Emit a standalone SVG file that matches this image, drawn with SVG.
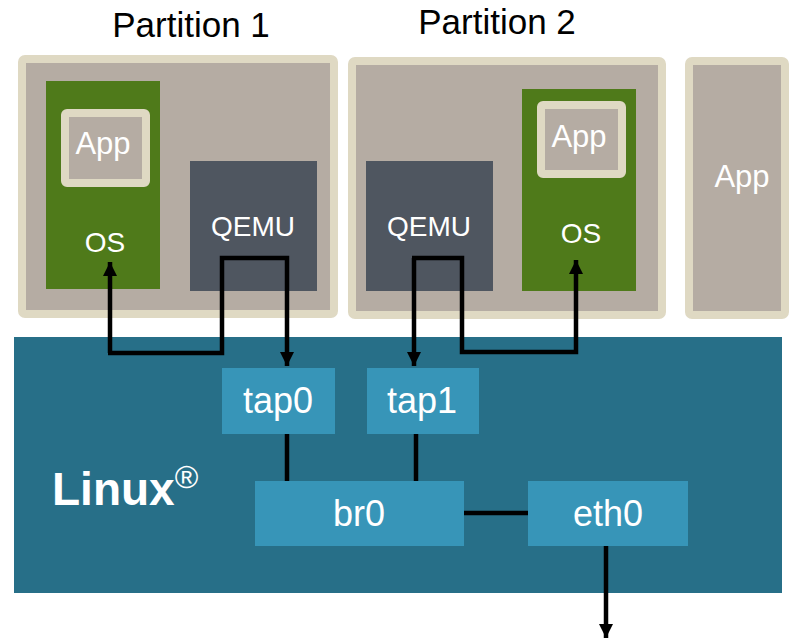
<svg xmlns="http://www.w3.org/2000/svg" width="789" height="641" viewBox="0 0 789 641">
<defs>
<style>
.part{fill:#b5aca3;stroke:#dfd9c3;stroke-width:8;stroke-linejoin:round}
.os{fill:#4f7a1a}
.qemu{fill:#4f5660}
.nic{fill:#3795b8}
.t{font-family:"Liberation Sans",Arial,sans-serif;fill:#fff;text-anchor:middle}
.title{font-family:"Liberation Sans",Arial,sans-serif;fill:#000;text-anchor:middle;font-size:35px}
.ln{fill:none;stroke:#000;stroke-width:4.5}
</style>
<marker id="ah" viewBox="0 0 10 10" refX="10" refY="5" markerWidth="3.2" markerHeight="3.2" orient="auto" markerUnits="strokeWidth">
<path d="M0,0 L10,5 L0,10 z" fill="#000"/>
</marker>
</defs>
<rect width="789" height="641" fill="#fff"/>
<g id="title1"><text class="title" x="191" y="37">Partition 1</text></g>
<g id="title2"><text class="title" x="497" y="34">Partition 2</text></g>
<g id="linux">
<rect x="14" y="337" width="768" height="256" fill="#276f88"/>
<text x="52" y="505" font-family="Liberation Sans,Arial,sans-serif" font-weight="bold" font-size="46" fill="#fff">Linux<tspan font-size="32" font-weight="normal" dy="-17">®</tspan></text>
</g>
<g id="partition1">
<rect class="part" x="22" y="59" width="312" height="255" rx="3"/>
</g>
<g id="os1">
<rect class="os" x="46" y="81" width="114" height="208"/>
<text class="t" x="105" y="252" font-size="28">OS</text>
</g>
<g id="app1">
<rect class="part" x="65" y="113" width="81" height="70" rx="2"/>
<text class="t" x="103" y="154" font-size="31">App</text>
</g>
<g id="qemu1">
<rect class="qemu" x="190" y="161" width="127" height="130"/>
<text class="t" x="253" y="236" font-size="28">QEMU</text>
</g>
<g id="partition2">
<rect class="part" x="352" y="61" width="310" height="254" rx="3"/>
</g>
<g id="qemu2">
<rect class="qemu" x="366" y="161" width="127" height="130"/>
<text class="t" x="429" y="236" font-size="28">QEMU</text>
</g>
<g id="os2">
<rect class="os" x="522" y="89" width="114" height="202"/>
<text class="t" x="581" y="243" font-size="28">OS</text>
</g>
<g id="app2">
<rect class="part" x="541" y="105" width="81" height="69" rx="2"/>
<text class="t" x="579" y="147" font-size="31">App</text>
</g>
<g id="app3">
<rect class="part" x="689" y="61" width="96" height="254" rx="3"/>
<text class="t" x="742" y="187" font-size="31">App</text>
</g>
<g id="tap0">
<rect class="nic" x="222" y="368" width="113" height="66"/>
<text class="t" x="278" y="413" font-size="36">tap0</text>
</g>
<g id="tap1">
<rect class="nic" x="367" y="368" width="112" height="66"/>
<text class="t" x="422" y="413" font-size="36">tap1</text>
</g>
<g id="br0">
<rect class="nic" x="255" y="481" width="209" height="65"/>
<text class="t" x="359" y="526" font-size="36">br0</text>
</g>
<g id="eth0">
<rect class="nic" x="528" y="481" width="160" height="65"/>
<text class="t" x="608" y="526" font-size="36">eth0</text>
</g>
<g id="connectors">
<path class="ln" d="M110,353 L110,262" marker-end="url(#ah)"/>
<path class="ln" d="M108,353 L222,353 L222,258 L287,258 L287,366" marker-end="url(#ah)"/>
<path class="ln" d="M414,258 L414,366" marker-end="url(#ah)"/>
<path class="ln" d="M412,258 L462,258 L462,352 L576,352 L576,260" marker-end="url(#ah)"/>
<path class="ln" d="M287,434 L287,481"/>
<path class="ln" d="M416,434 L416,481"/>
<path class="ln" d="M464,513 L528,513"/>
<path class="ln" d="M606,546 L606,638" marker-end="url(#ah)"/>
</g>
</svg>
